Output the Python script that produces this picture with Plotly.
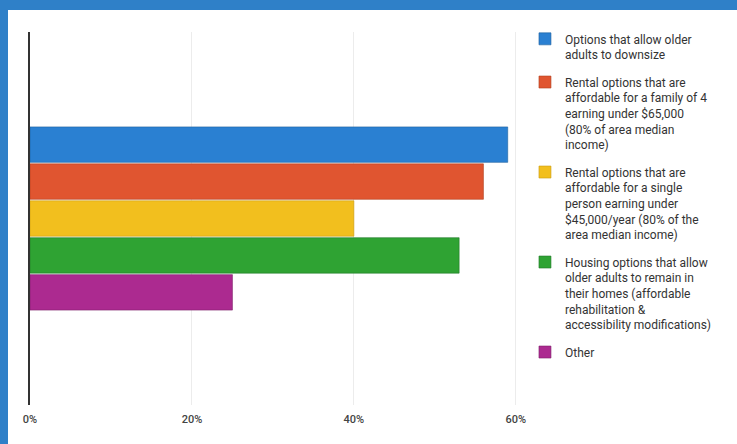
import plotly.graph_objects as go

categories = ["Options that allow older<br>adults to downsize",
              "Rental options that are<br>affordable for a family of 4<br>earning under $65,000<br>(80% of area median<br>income)",
              "Rental options that are<br>affordable for a single<br>person earning under<br>$45,000/year (80% of the<br>area median income)",
              "Housing options that allow<br>older adults to remain in<br>their homes (affordable<br>rehabilitation &<br>accessibility modifications)",
              "Other"]
values = [59, 56, 40, 53, 25]
colors = ["#2a80d2", "#e05530", "#f2bf1e", "#2fa333", "#ac2a90"]
edges = ["#1d5f9e", "#b0401f", "#c99a10", "#21792a", "#7e1f6a"]
tick_vals = [0, 20, 40, 60]
tick_text = ["0%", "20%", "40%", "60%"]

fig = go.Figure()
for i, (name, v, c, e) in enumerate(zip(categories, values, colors, edges)):
    fig.add_trace(go.Bar(x=[v], y=["q"], orientation="h", name=name,
                         legendgroup=f"g{i}",
                         marker=dict(color=c, line=dict(color=e, width=0.6))))

fig.update_layout(
    width=737, height=444,
    margin=dict(l=30, r=205, t=32, b=39, autoexpand=False),
    barmode="group", bargap=0.505, bargroupgap=0.04,
    paper_bgcolor="#2f80c8", plot_bgcolor="white",
    font=dict(family="Roboto, Arial, sans-serif", color="#333"),
    xaxis=dict(range=[0, 62], tickvals=tick_vals, ticktext=tick_text,
               showgrid=True, gridcolor="#ececec", gridwidth=1,
               zeroline=False, showline=False, automargin=False,
               ticklabelstandoff=6,
               tickfont=dict(size=11, color="#444", weight=500)),
    yaxis=dict(autorange="reversed", showticklabels=False, showgrid=False,
               automargin=False,
               showline=True, linecolor="#333", linewidth=1.5, zeroline=False),
    legend=dict(x=0.986, y=1.02, xanchor="left", yanchor="top",
                traceorder="grouped", valign="top", tracegroupgap=9,
                maxheight=440,
                font=dict(size=12, color="#333"), bgcolor="rgba(0,0,0,0)"),
    shapes=[dict(type="rect", xref="paper", yref="paper", layer="below",
                 x0=-22/502, x1=(737-30)/502, y0=-40/373, y1=395/373,
                 fillcolor="white", line=dict(width=0))],
)

fig.write_html("out.html", config={"displayModeBar": False},
               post_script="document.body.style.margin='0';")
